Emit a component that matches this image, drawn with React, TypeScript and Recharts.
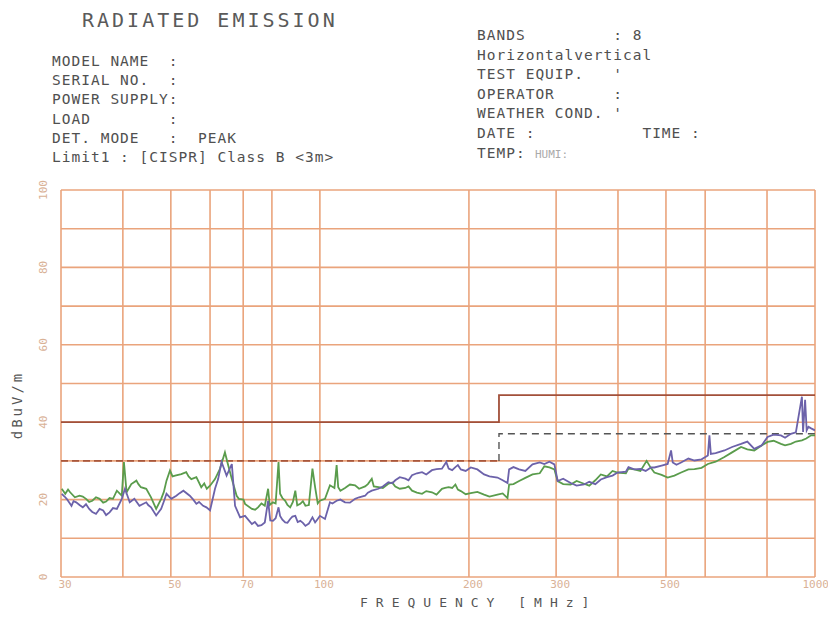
import { CartesianGrid, Line, LineChart, XAxis, YAxis } from "recharts";

// frequency grid (MHz) and level grid (dBuV/m)
const gridFreqs = [30, 40, 50, 60, 70, 80, 90, 100, 200, 300, 400, 500, 600, 700, 800, 900, 1000];
const labeledFreqs = [30, 50, 70, 100, 200, 300, 500, 700, 1000];
const levelTicks = [0, 10, 20, 30, 40, 50, 60, 70, 80, 90, 100];
const labeledLevels = [0, 20, 40, 60, 80, 100];

// CISPR class B limit and the margin line under it
const limitFreq = [30, 230, 230, 1000];
const limitLevel = [40, 40, 47, 47];
const marginLowFreq = [30, 230];
const marginLowLevel = [30, 30];
const marginHighFreq = [230, 230, 1000];
const marginHighLevel = [30, 37, 37];

// green trace (main readings, then the in-between noise)
const greenFreq = [
  30.1, 30.6, 31.3, 32.0, 32.7, 33.7, 34.7, 35.9, 37.0, 38.2, 38.9, 39.8, 40.2, 40.7, 41.6, 42.6,
  43.5, 44.6, 45.6, 46.7, 47.8, 49.0, 49.8, 51.0, 52.5, 53.7, 55.0, 56.3, 57.6, 59.1, 60.0, 61.4,
  62.8, 64.3, 65.3, 66.4, 67.9, 70.1, 70.6, 72.9, 75.0, 77.4, 78.6, 79.2, 80.4, 82.5, 83.1, 85.1,
  87.1, 89.2, 90.0, 91.3, 93.5, 96.6, 97.8, 100, 102.4, 104.8, 107.0, 108.1, 108.9, 112.4, 117.8,
  123.4, 127.3, 128.5, 131.3, 137.5, 142.0, 148.8, 153.5, 160.8, 168.4, 176.4, 182.0, 187.8, 192.6,
  201.7, 214.6, 228.4, 239.3, 241.1, 252.6, 268.8, 290.8, 297.6, 302.2, 321, 341.6, 369.3, 399.2,
  431.4, 444, 457, 466, 473.7, 504, 536.5, 570.9, 607.6, 656.2, 709, 754, 802, 853.5, 894, 941, 982, 1000,
  31.0, 33.2, 34.2, 35.3, 36.5, 37.6, 43.0, 48.4, 50.4, 54.3, 58.4, 68.6, 74.0, 76.2, 81.4, 84.0,
  86.0, 88.2, 92.4, 95.0, 99.0, 110, 115, 120, 125, 134, 140, 145, 151, 157, 164, 172, 179, 185,
  190, 197, 208, 220, 234, 246, 260, 278, 284, 310, 330, 350, 360, 380, 390, 415, 420, 490, 520,
  555, 590, 630, 680, 730, 780, 825, 870, 915, 960,
];
const greenLevel = [
  22.8, 21.5, 21.9, 20.6, 21.0, 20.2, 19.7, 20.2, 19.5, 20.2, 22.3, 21.0, 29.7, 21.9, 24.0, 24.9,
  23.2, 22.8, 20.6, 17.6, 20.2, 24.9, 27.5, 26.2, 26.6, 27.1, 25.3, 25.8, 23.2, 22.8, 23.6, 25.3,
  27.9, 32.2, 28.8, 25.3, 21.0, 20.0, 18.9, 17.6, 18.0, 18.4, 22.8, 18.6, 19.3, 29.7, 21.5, 19.7,
  18.0, 22.3, 18.5, 18.9, 18.4, 28.0, 23.2, 19.7, 20.2, 23.7, 23.0, 28.9, 23.2, 23.0, 23.7,
  23.4, 25.4, 23.4, 23.2, 24.1, 23.4, 23.0, 22.3, 21.5, 21.9, 22.8, 23.2, 23.9, 22.2,
  21.7, 21.3, 21.3, 20.4, 23.9, 24.8, 26.5, 28.3, 27.8, 24.8, 23.9, 24.1, 26.5, 27.0,
  27.8, 27.4, 30.0, 28.2, 27.0, 25.7, 27.0, 27.9, 29.2, 31.0, 33.6, 32.7, 34.9, 34.4, 34.4, 35.3, 36.6, 36.6,
  22.6, 20.8, 19.4, 20.6, 19.2, 20.4, 24.0, 22.0, 26.0, 26.0, 24.2, 20.2, 17.4, 19.0, 19.0, 20.4,
  18.6, 19.4, 19.6, 18.6, 19.0, 22.3, 23.9, 22.8, 24.0, 23.0, 24.4, 22.8, 23.4, 21.8, 22.2, 21.3, 23.0, 23.0,
  22.6, 21.4, 22.0, 20.8, 21.6, 24.0, 25.6, 26.8, 28.6, 24.0, 24.8, 23.6, 25.0, 26.0, 27.4, 26.8, 28.0, 26.4, 26.2,
  27.8, 28.2, 29.8, 32.2, 33.0, 34.0, 35.2, 34.0, 35.0, 35.8,
];

// purple trace (main readings, then the in-between noise)
const purpleFreq = [
  30.1, 30.8, 31.5, 32.2, 33.2, 34.2, 35.3, 36.5, 37.6, 38.9, 39.8, 40.4, 41.3, 42.2, 43.2, 44.6,
  45.6, 46.7, 47.8, 49.0, 50.1, 51.3, 53.0, 54.6, 56.3, 58.1, 60.0, 61.4, 62.3, 63.3, 64.8, 66.4,
  67.4, 69.0, 70.6, 72.9, 75.0, 77.4, 78.6, 79.4, 80.4, 82.5, 83.1, 85.1, 87.1, 89.2, 91.3, 93.5,
  96.6, 97.8, 100, 102.4, 104.8, 108.1, 112.4, 117.8, 123.4, 127.3, 131.3, 137.5, 142.0, 148.8,
  153.5, 160.8, 168.4, 176.4, 180.0, 182.0, 187.8, 192.6, 201.7, 214.6, 228.4, 239.3, 241.1, 252.6,
  268.8, 290.8, 297.6, 302.2, 321, 341.6, 369.3, 399.2, 431.4, 444, 466.4, 473.7, 504, 512, 516,
  536.5, 570.9, 607.6, 612, 616, 656.2, 709, 754, 802, 853.5, 894, 941, 946, 955, 962, 982, 1000,
  30.5, 31.8, 32.7, 33.7, 34.7, 35.9, 37.0, 38.2, 45.0, 48.4, 52.0, 55.5, 57.0, 59.0, 73.9, 76.2,
  81.4, 84.0, 86.0, 88.0, 90.2, 92.4, 95.0, 99.0, 106, 110, 115, 120, 125, 134, 140, 145, 151, 157,
  164, 172, 185, 190, 197, 208, 220, 234, 246, 260, 278, 284, 310, 330, 350, 360, 380, 390, 415, 420,
  455, 490, 525, 555, 590, 630, 680, 730, 780, 825, 870, 915, 970,
];
const purpleLevel = [
  21.5, 20.2, 18.4, 19.3, 18.0, 17.6, 16.3, 17.2, 16.7, 17.6, 20.2, 22.8, 19.3, 20.2, 18.4, 19.3,
  18.0, 15.9, 17.6, 21.5, 20.2, 21.0, 22.3, 21.0, 18.9, 18.4, 17.2, 22.8, 25.3, 29.7, 26.2, 29.2,
  18.4, 15.4, 15.8, 13.7, 13.2, 14.1, 19.7, 14.6, 14.5, 18.0, 15.8, 14.1, 15.0, 15.8, 14.5, 13.2,
  15.4, 14.1, 15.8, 15.0, 19.3, 19.7, 19.3, 20.2, 21.0, 22.3, 22.8, 24.5, 25.0, 25.4,
  26.3, 27.1, 27.6, 28.0, 29.7, 28.0, 28.4, 27.8, 28.3, 26.5, 25.7, 24.3, 27.8, 27.8,
  29.1, 29.8, 29.1, 24.8, 24.3, 23.9, 25.2, 27.0, 27.8, 27.9, 28.3, 28.3, 29.2, 32.7, 29.6,
  29.6, 30.1, 31.4, 36.6, 31.8, 32.7, 34.4, 33.1, 36.2, 36.6, 37.0, 46.6, 37.5, 45.8, 37.9, 38.4, 37.9,
  20.8, 19.6, 18.6, 18.8, 16.8, 17.6, 16.0, 17.8, 18.6, 19.5, 21.6, 20.0, 19.4, 18.0, 14.2, 13.4,
  15.2, 14.8, 14.0, 15.6, 14.2, 14.0, 13.8, 15.0, 19.0, 20.0, 19.2, 20.6, 21.8, 23.4, 24.2, 25.8, 25.0, 26.8,
  26.5, 27.9, 27.6, 28.9, 27.4, 27.8, 26.0, 25.0, 28.4, 27.4, 29.6, 29.2, 25.4, 23.6, 24.6, 24.0, 25.8, 26.2, 27.2, 28.4,
  27.4, 28.8, 29.0, 30.6, 30.4, 32.0, 33.6, 35.0, 34.0, 36.8, 36.0, 37.4, 38.8,
];

const leftHeader = [
  "MODEL NAME  :",
  "SERIAL NO.  :",
  "POWER SUPPLY:",
  "LOAD        :",
  "DET. MODE   :  PEAK",
  "Limit1 : [CISPR] Class B <3m>",
];
const rightHeader = [
  "BANDS         : 8",
  "Horizontalvertical",
  "TEST EQUIP.   '",
  "OPERATOR      :",
  "WEATHER COND. '",
  "DATE :           TIME :",
  "TEMP:",
];

// pair up a trace and put it in frequency order for the line
const toRows = (fs: number[], vs: number[]) =>
  fs.map((f, i) => ({ f, v: vs[i] })).sort((a, b) => a.f - b.f);

const GRID = "#eaa47c";
const TICK = "#d9b196";
const INK = "#505050";
const MONO = "'DejaVu Sans Mono', monospace";

const XTick = (props: any) => {
  const val = props.payload.value;
  if (!labeledFreqs.includes(val)) return null;
  const last = val === 1000;
  return (
    <text
      x={last ? 829 : props.x + 4}
      y={588}
      textAnchor={last ? "end" : "middle"}
      fontSize={11}
      fill={TICK}
      fontFamily={MONO}
    >
      {val}
    </text>
  );
};

const YTick = (props: any) => {
  const val = props.payload.value;
  if (!labeledLevels.includes(val)) return null;
  return (
    <text
      x={47}
      y={props.y}
      transform={`rotate(-90 47 ${props.y})`}
      textAnchor="middle"
      fontSize={11}
      fill={TICK}
      fontFamily={MONO}
    >
      {val}
    </text>
  );
};

export default function App() {
  return (
    <div style={{ margin: -8, position: "relative", width: 836, height: 627, background: "#fff" }}>
      <LineChart width={836} height={627} margin={{ top: 190, right: 21, bottom: 20, left: 21 }}>
        <CartesianGrid stroke={GRID} strokeWidth={1.6} />
        <XAxis
          dataKey="f"
          type="number"
          scale="log"
          domain={[30, 1000]}
          ticks={gridFreqs}
          allowDataOverflow
          height={30}
          axisLine={false}
          tickLine={false}
          tick={<XTick />}
        />
        <YAxis
          type="number"
          domain={[0, 100]}
          ticks={levelTicks}
          width={40}
          axisLine={false}
          tickLine={false}
          tick={<YTick />}
        />
        <Line data={toRows(marginLowFreq, marginLowLevel)} dataKey="v" stroke="#a8573c" strokeWidth={1.6} strokeDasharray="7 4" dot={false} isAnimationActive={false} />
        <Line data={toRows(marginHighFreq, marginHighLevel)} dataKey="v" stroke="#555" strokeWidth={1.4} strokeDasharray="7 5" dot={false} isAnimationActive={false} />
        <Line data={toRows(limitFreq, limitLevel)} dataKey="v" stroke="#a2503a" strokeWidth={1.8} dot={false} isAnimationActive={false} />
        <Line data={toRows(greenFreq, greenLevel)} dataKey="v" stroke="#5a9c4c" strokeWidth={1.8} dot={false} isAnimationActive={false} />
        <Line data={toRows(purpleFreq, purpleLevel)} dataKey="v" stroke="#6c62aa" strokeWidth={1.8} dot={false} isAnimationActive={false} />
      </LineChart>

      <svg width={836} height={627} style={{ position: "absolute", left: 0, top: 0, pointerEvents: "none" }}>
        <text x={82} y={27} fontSize={20} fill="#5a5a5a" fontFamily={MONO} letterSpacing={3}>
          RADIATED EMISSION
        </text>
        {leftHeader.map((t, i) => (
          <text key={t} x={52} y={66 + i * 19.2} fontSize={14.5} fill={INK} fontFamily={MONO} letterSpacing={1} xmlSpace="preserve">
            {t}
          </text>
        ))}
        {rightHeader.map((t, i) => (
          <text key={t} x={477} y={40 + i * 19.6} fontSize={14.5} fill={INK} fontFamily={MONO} letterSpacing={1} xmlSpace="preserve">
            {t}
          </text>
        ))}
        <text x={535} y={158} fontSize={11} fill="#aaa" fontFamily={MONO}>
          HUMI:
        </text>
        <text
          x={22}
          y={405}
          transform="rotate(-90 22 405)"
          textAnchor="middle"
          fontSize={14}
          fill="#555"
          fontFamily={MONO}
          letterSpacing={3}
        >
          dBuV/m
        </text>
        <text x={360} y={607} fontSize={13} fill="#555" fontFamily={MONO} letterSpacing={8} xmlSpace="preserve">
          FREQUENCY [MHz]
        </text>
      </svg>
    </div>
  );
}
